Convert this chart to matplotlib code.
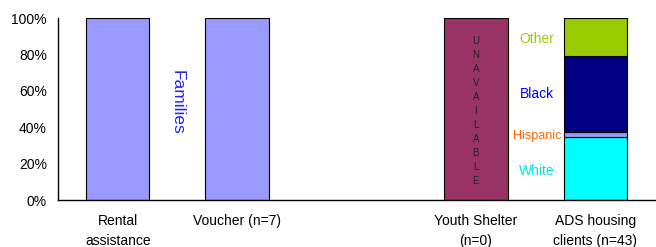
import numpy as np
import matplotlib.pyplot as plt
from matplotlib.ticker import PercentFormatter

plt.rcParams['font.family'] = ['Liberation Sans', 'DejaVu Sans']

# Data
categories = ['Rental\nassistance', 'Voucher (n=7)', '', 'Youth Shelter\n(n=0)', 'ADS housing\nclients (n=43)']
families = [100, 100, 0, 0, 0]          # Rental / Voucher: families only
unavailable = [0, 0, 0, 100, 0]         # Youth Shelter: no data
ads_counts = {'White': 15, 'Hispanic': 1, 'Black': 18, 'Other': 9}
ads_total = 43

seg_colors = {'White': '#00FFFF', 'Hispanic': '#9999FF', 'Black': '#000080', 'Other': '#99CC00'}
label_colors = {'White': '#00E5E5', 'Hispanic': '#FF6600', 'Black': '#0000FF', 'Other': '#99CC00'}
label_sizes = {'White': 10, 'Hispanic': 9, 'Black': 10, 'Other': 10}

x = np.arange(len(categories))
w = 0.53

fig = plt.figure(figsize=(6.56, 2.47), dpi=100)
ax = fig.add_axes([58 / 656, 47 / 247, 597 / 656, 182 / 247])

ax.bar(x[:2], families[:2], w, color='#9999FF', edgecolor='black', linewidth=0.8)
ax.bar(x[3], unavailable[3], w, color='#993366', edgecolor='black', linewidth=0.8)

bottom = 0
for name, n in ads_counts.items():
    pct = n / ads_total * 100
    ax.bar(x[4], pct, w, bottom=bottom, color=seg_colors[name], edgecolor='black', linewidth=0.8)
    bottom += pct

# annotations
ax.text(0.5, 53.5, 'Families', rotation=-90, color='#2222FF', fontsize=12.5, ha='center', va='center')
ax.text(x[3], 49, '\n'.join('UNAVAILABLE'), color='#222222', fontsize=7, ha='center', va='center',
        linespacing=1.5)
label_y = {'Other': 88.7, 'Black': 58.5, 'Hispanic': 35.4, 'White': 15.7}
for name in ads_counts:
    ax.text(3.51, label_y[name], name, color=label_colors[name], fontsize=label_sizes[name],
            ha='center', va='center')

ax.set_xlim(-0.5, 4.5)
ax.set_ylim(0, 100)
ax.set_yticks([0, 20, 40, 60, 80, 100])
ax.yaxis.set_major_formatter(PercentFormatter(decimals=0))
ax.set_xticks(x)
ax.set_xticklabels(categories, linespacing=1.6)
ax.tick_params(axis='both', length=0, labelsize=10, colors='black')
ax.tick_params(axis='y', pad=8)
ax.tick_params(axis='x', pad=10)
for s in ['top', 'right']:
    ax.spines[s].set_visible(False)
for s in ['left', 'bottom']:
    ax.spines[s].set_linewidth(1.0)

fig.savefig('out.png', dpi=100)
